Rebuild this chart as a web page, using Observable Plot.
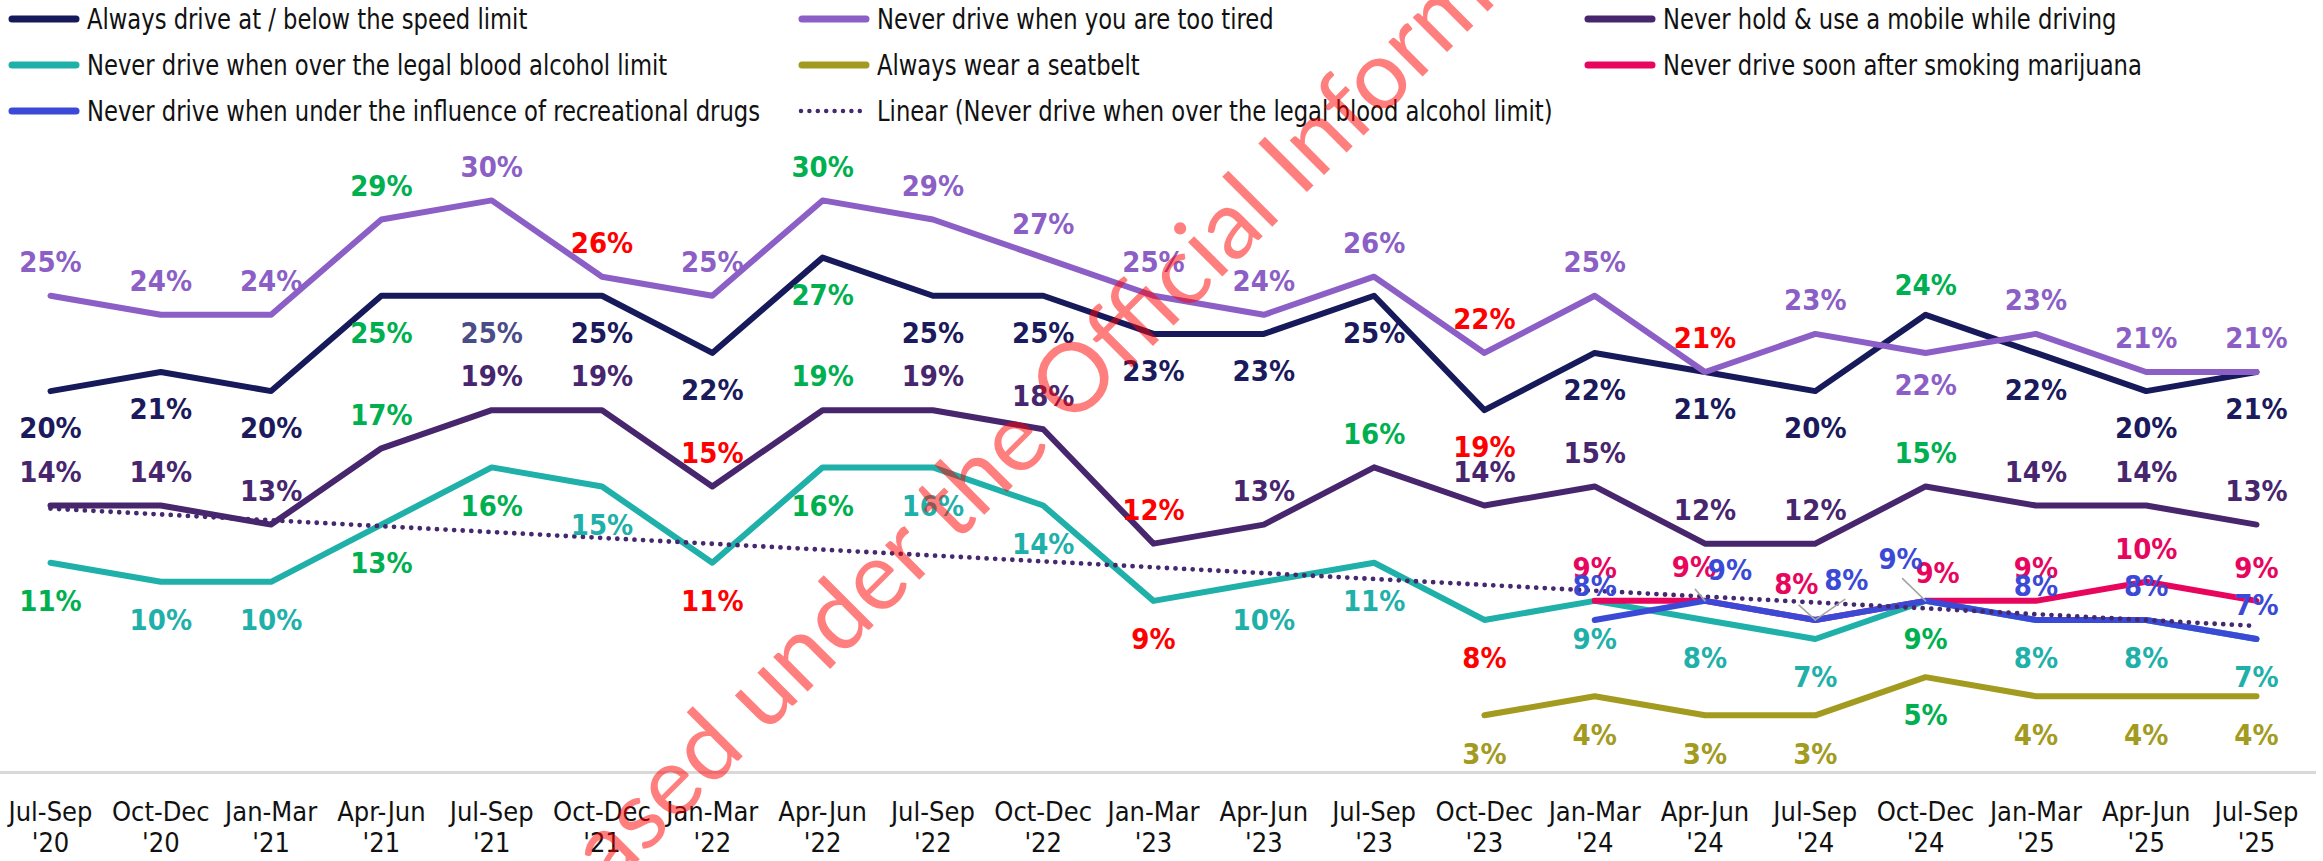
<!DOCTYPE html>
<html><head><meta charset="utf-8">
<script src="https://cdn.jsdelivr.net/npm/d3@7"></script>
<script src="https://cdn.jsdelivr.net/npm/@observablehq/plot@0.6"></script>
<style>
html,body{margin:0;padding:0;background:#fff;}
body{width:2323px;height:861px;overflow:hidden;position:relative;font-family:"DejaVu Sans Condensed","Liberation Sans Narrow",Roboto,sans-serif;}
#legend{position:relative;height:130px;}
.item{position:absolute;display:flex;align-items:center;height:34px;font-size:28px;color:#111;white-space:nowrap;}
.item svg{margin-right:7px;flex:none;}
.item span{display:inline-block;transform:scaleX(0.9);transform-origin:left center;}
#chart{position:absolute;top:130px;left:0;}
#wm{position:absolute;left:1098px;top:348px;transform:translate(-50%,-50%) rotate(-45deg);font-family:Lato,"Open Sans",sans-serif;font-size:96px;color:rgba(255,0,0,0.5);white-space:nowrap;pointer-events:none;}
</style>
</head><body>
<div id="legend"></div>
<div id="chart"></div>
<div id="wm">Released under the Official Information Act</div>
<script>
// ---------- data ----------
const quarters = ["Jul-Sep\n'20","Oct-Dec\n'20","Jan-Mar\n'21","Apr-Jun\n'21","Jul-Sep\n'21","Oct-Dec\n'21","Jan-Mar\n'22","Apr-Jun\n'22","Jul-Sep\n'22","Oct-Dec\n'22","Jan-Mar\n'23","Apr-Jun\n'23","Jul-Sep\n'23","Oct-Dec\n'23","Jan-Mar\n'24","Apr-Jun\n'24","Jul-Sep\n'24","Oct-Dec\n'24","Jan-Mar\n'25","Apr-Jun\n'25","Jul-Sep\n'25"];

const speed     = [20,21,20,25,25,25,22,27,25,25,23,23,25,19,22,21,20,24,22,20,21];
const tired     = [25,24,24,29,30,26,25,30,29,27,25,24,26,22,25,21,23,22,23,21,21];
const mobile    = [14,14,13,17,19,19,15,19,19,18,12,13,16,14,15,12,12,15,14,14,13];
const alcohol   = [11,10,10,13,16,15,11,16,16,14,9,10,11,8,9,8,7,9,8,8,7];
const seatbelt  = [null,null,null,null,null,null,null,null,null,null,null,null,null,3,4,3,3,5,4,4,4];
const marijuana = [null,null,null,null,null,null,null,null,null,null,null,null,null,null,9,9,8,9,9,10,9];
const drugs     = [null,null,null,null,null,null,null,null,null,null,null,null,null,null,8,9,8,9,8,8,7];

// significance of change shown by label colour: "up" green, "down" red, "muted" grey-blue
const speedSig    = ["","","","up","muted","","","up","","","","","","down","","","","up","","",""];
const tiredSig    = ["","","","up","","down","","up","","","","","","down","","down","","","","",""];
const mobileSig   = ["","","","up","","","down","up","","","down","","up","","","","","up","","",""];
const alcoholSig  = ["up","","","up","up","","down","up","","","down","","","down","","","","up","","",""];
const seatbeltSig = ["","","","","","","","","","","","","","","","","","up","","",""];
const marijuanaSig= Array(21).fill("");
const drugsSig    = Array(21).fill("");

const seriesNames = ["Always drive at / below the speed limit","Never drive when you are too tired","Never hold & use a mobile while driving","Never drive when over the legal blood alcohol limit","Always wear a seatbelt","Never drive soon after smoking marijuana","Never drive when under the influence of recreational drugs"];
const trendName = "Linear (Never drive when over the legal blood alcohol limit)";
const seriesValues = [speed, tired, mobile, alcohol, seatbelt, marijuana, drugs];
const seriesSig = [speedSig, tiredSig, mobileSig, alcoholSig, seatbeltSig, marijuanaSig, drugsSig];

// ---------- styles ----------
const lineColors  = ["#171a5a","#8c5fc6","#47266e","#1fb0aa","#a39b1f","#e8055d","#3b4ad6"];
const labelColors = ["#1b1a5c","#8c5fc6","#47266e","#1fb0aa","#a39b1f","#e8055d","#3b4ad6"];
const sigColors = {up:"#00b050", down:"#ff0000", muted:"#4b4d88"};
const trendColor = "#46286e";
const labelDy = [38,-33,-33,39,39,-32,-33];
// per-label offset overrides [series, quarter, dx, dy]
const overrides = [[0,17,0,-29],[1,17,0,33],
  [5,15,-11,-33],[6,15,25,-30],
  [5,16,-19,-35],[6,16,31,-39],
  [6,17,-25,-41],[5,17,12,-27]];
// leader lines [series, quarter, length, angle]
const leaders = [[5,15,15,-40],[5,16,22,-48],[6,16,36,55],[6,17,32,-46]];

// ---------- legend ----------
const legend = document.getElementById("legend");
const legendItems = seriesNames.map((n,k)=>({name:n,color:lineColors[k],dotted:false})).concat([{name:trendName,color:trendColor,dotted:true}]);
const colX = [8,798,1584], rowY = [19,65,111];
legendItems.forEach((it,k)=>{
  const d = document.createElement("div");
  d.className = "item";
  d.style.left = colX[k%3]+"px";
  d.style.top = (rowY[Math.floor(k/3)]-17)+"px";
  const sw = it.dotted
    ? `<svg width="72" height="10"><line x1="3" y1="5" x2="70" y2="5" stroke="${it.color}" stroke-width="4.5" stroke-linecap="round" stroke-dasharray="0 8.4"/></svg>`
    : `<svg width="72" height="10"><line x1="4" y1="5" x2="68" y2="5" stroke="${it.color}" stroke-width="7" stroke-linecap="round"/></svg>`;
  d.innerHTML = sw + `<span>${it.name}</span>`;
  legend.appendChild(d);
});

// ---------- chart ----------
const rows = [];
seriesValues.forEach((vals,s)=>vals.forEach((v,i)=>{ if(v!=null) rows.push({s, i, v}); }));

const labels = rows.map(r=>{
  const sig = seriesSig[r.s][r.i];
  const o = overrides.find(o=>o[0]===r.s && o[1]===r.i);
  return {...r, text: r.v+"%", color: sig ? sigColors[sig] : labelColors[r.s], dx: o?o[2]:0, dy: o?o[3]:labelDy[r.s]};
});
const groups = d3.groups(labels, d=>`${d.color}|${d.dx}|${d.dy}`);

const W = 2323, H = 731;
const fontFam = '"DejaVu Sans Condensed","Liberation Sans Narrow",Roboto,sans-serif';

const marks = [
  Plot.ruleY([0], {stroke:"#d9d9d9", strokeWidth:3}),
  ...seriesValues.map((vals,s)=>Plot.line(rows.filter(r=>r.s===s), {x:"i", y:"v", stroke:lineColors[s], strokeWidth:6, strokeLinejoin:"round", strokeLinecap:"round"})),
  Plot.linearRegressionY(rows.filter(r=>r.s===3), {x:"i", y:"v", ci:0, stroke:trendColor, strokeWidth:4.8, strokeDasharray:"0 8.6", strokeLinecap:"round"}),
  ...leaders.map(([s,i,len,ang])=>Plot.vector(rows.filter(r=>r.s===s && r.i===i), {x:"i", y:"v", length:len, rotate:ang, anchor:"start", stroke:"#a6a6a6", strokeWidth:1.6,
      shape:{draw(ctx,l){ctx.moveTo(0,0);ctx.lineTo(0,-l);}}})),
  ...groups.map(([key,g])=>Plot.text(g, {x:"i", y:"v", text:"text", fill:g[0].color, dx:g[0].dx, dy:g[0].dy, fontSize:29, fontWeight:"bold"})),
  Plot.axisX({ticks:d3.range(21), tickFormat:i=>quarters[i], tickSize:0, tickPadding:26, fontSize:27, lineHeight:1.15, lineAnchor:"top", fill:"#111", label:null})
];

const chart = Plot.plot({
  width: W, height: H,
  marginLeft: 0, marginRight: 7, marginTop: 0, marginBottom: 89,
  x: {type:"linear", domain:[0,20], range:[50,2256], label:null},
  y: {domain:[0,30], range:[642,69.9], axis:null},
  style: {fontFamily: fontFam, background:"#fff", overflow:"visible"},
  marks
});
document.getElementById("chart").appendChild(chart);
</script>
</body></html>
